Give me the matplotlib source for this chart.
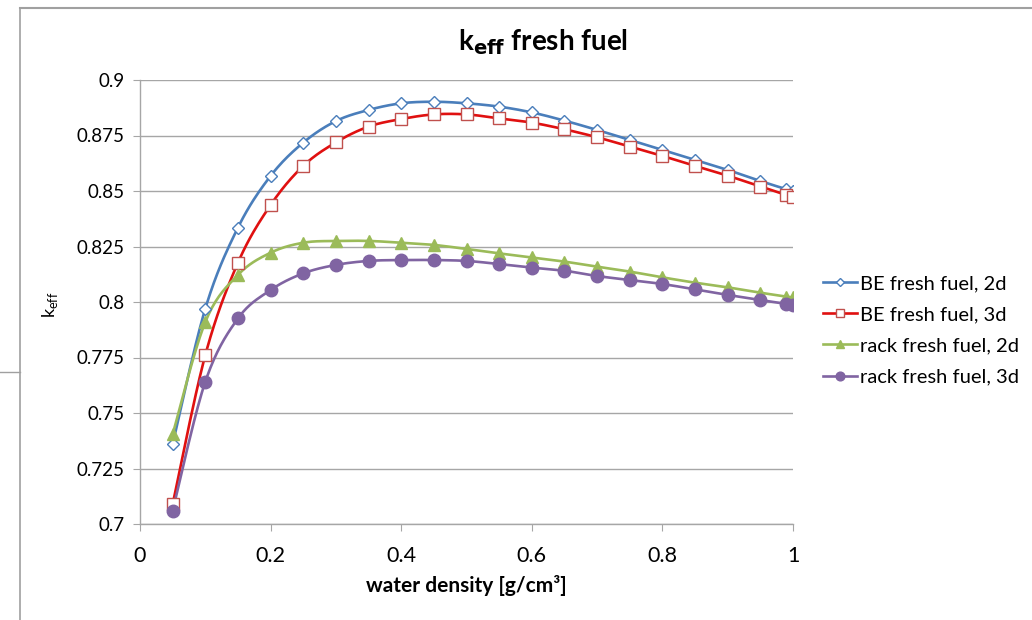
#!/usr/bin/env python3

import numpy as np

import matplotlib
matplotlib.use("Agg")
import matplotlib.pyplot as plt
from matplotlib.lines import Line2D
from matplotlib.ticker import FuncFormatter

# water density [g/cm3]
density = [0.05, 0.1, 0.15, 0.2, 0.25, 0.3, 0.35, 0.4, 0.45, 0.5,
           0.55, 0.6, 0.65, 0.7, 0.75, 0.8, 0.85, 0.9, 0.95, 0.99, 1.0]

be_2d = [0.736, 0.797, 0.8335, 0.8568, 0.8718, 0.8815, 0.8865, 0.8895, 0.8902, 0.8895,
         0.888, 0.8854, 0.8817, 0.8775, 0.873, 0.8685, 0.864, 0.8595, 0.8545, 0.8508, 0.8502]
be_3d = [0.7089, 0.7761, 0.8177, 0.8437, 0.8613, 0.8719, 0.879, 0.8824, 0.8845, 0.8845,
         0.8827, 0.8808, 0.8778, 0.8742, 0.870, 0.8658, 0.8613, 0.8569, 0.852, 0.8482, 0.8475]
rack_2d = [0.7404, 0.791, 0.8122, 0.8222, 0.8267, 0.8275, 0.8275, 0.8267, 0.8257, 0.8239,
           0.8219, 0.8201, 0.8182, 0.8159, 0.8137, 0.8111, 0.8087, 0.8066, 0.8042, 0.8024, 0.8021]
rack_3d = [0.706, 0.7641, 0.7926, 0.8054, 0.8129, 0.8167, 0.8185, 0.8189, 0.8189, 0.8185,
           0.8171, 0.8155, 0.8141, 0.8117, 0.8099, 0.8081, 0.8057, 0.8032, 0.8009, 0.7991, 0.7987]

labels = ["BE fresh fuel, 2d", "BE fresh fuel, 3d",
          "rack fresh fuel, 2d", "rack fresh fuel, 3d"]


def smooth(x, y, n=20):
    # Catmull-Rom through the points, like the "smoothed line" of a spreadsheet
    x = np.asarray(x, float)
    y = np.asarray(y, float)
    sy = 444.0 / 654.0 / 0.2
    px = np.concatenate([[x[0]], x, [x[-1]]])
    py = np.concatenate([[y[0]], y, [y[-1]]]) * sy
    xs, ys = [], []
    t = np.linspace(0, 1, n)
    for i in range(1, len(px) - 2):
        p0, p1, p2, p3 = (np.array([px[j], py[j]]) for j in range(i - 1, i + 3))
        c1 = p1 + (p2 - p0) / 6.0
        c2 = p2 - (p3 - p1) / 6.0
        for tt in t:
            b = ((1 - tt) ** 3 * p1 + 3 * (1 - tt) ** 2 * tt * c1
                 + 3 * (1 - tt) * tt ** 2 * c2 + tt ** 3 * p2)
            xs.append(b[0])
            ys.append(b[1] / sy)
    return np.array(xs), np.array(ys)


plt.rcParams['font.family'] = ['Lato', 'DejaVu Sans']

fig = plt.figure(figsize=(10.32, 6.2), dpi=100)
ax = fig.add_axes([140 / 1032, 1 - 524 / 620, 653 / 1032, 444 / 620])

styles = [
    dict(color='#4A7EBB', marker='D', ms=6, mfc='white', mec='#4A7EBB', mew=1.0),
    dict(color='#E01010', marker='s', ms=8, mfc='white', mec='#C0504D', mew=1.0),
    dict(color='#9BBB59', marker='^', ms=9, mfc='#9BBB59', mec='#9BBB59', mew=1.0),
    dict(color='#8064A2', marker='o', ms=9, mfc='#8064A2', mec='#8064A2', mew=1.0),
]

handles = []
for ys, lab, st in zip([be_2d, be_3d, rack_2d, rack_3d], labels, styles):
    sx, sy = smooth(density, ys)
    ax.plot(sx, sy, color=st['color'], lw=1.9, zorder=3)
    ax.plot(density, ys, ls='none', marker=st['marker'], ms=st['ms'],
            mfc=st['mfc'], mec=st['mec'], mew=st['mew'], zorder=4)
    handles.append(Line2D([], [], color=st['color'], lw=1.9, marker=st['marker'],
                          ms=st['ms'] * 0.7, mfc=st['mfc'], mec=st['mec'], label=lab))

ax.set_xlim(0, 1)
ax.set_ylim(0.7, 0.9)
ax.set_xticks([0, 0.2, 0.4, 0.6, 0.8, 1])
ax.set_yticks(np.arange(0.7, 0.9001, 0.025))
fmt = FuncFormatter(lambda v, p: "%g" % round(v, 3))
ax.xaxis.set_major_formatter(fmt)
ax.yaxis.set_major_formatter(fmt)

ax.grid(axis='y', color='#A6A6A6', lw=1.0)
ax.set_axisbelow(True)
for s in ['top', 'right']:
    ax.spines[s].set_visible(False)
for s in ['left', 'bottom']:
    ax.spines[s].set_color('#A6A6A6')
    ax.spines[s].set_linewidth(1.0)
ax.tick_params(axis='y', length=5, color='#A6A6A6', labelsize=13.5, pad=6)
ax.tick_params(axis='x', length=5, color='#A6A6A6', labelsize=15.5, pad=11)

ax.set_xlabel("water density [g/cm³]", fontsize=15, fontweight='bold', labelpad=6)
fig.text(50 / 1032, 1 - 305 / 620, r"k$_{\mathregular{eff}}$", rotation=90,
         fontsize=13, ha='center', va='center')

fig.text(543 / 1032, 1 - 42 / 620, r"k$_{\mathbf{eff}}$ fresh fuel", fontsize=20,
         fontweight='bold', ha='center', va='center')

fig.legend(handles=handles, loc='upper left', bbox_to_anchor=(823 / 1032, 1 - 275 / 620),
           frameon=False, fontsize=14.5, handlelength=1.7, handletextpad=0.15,
           labelspacing=0.7, borderpad=0, borderaxespad=0)

# outer chart frame of the screenshot
frame = '#A0A0A0'
fig.add_artist(Line2D([20 / 1032, 1], [1 - 8 / 620, 1 - 8 / 620], color=frame, lw=1.5))
fig.add_artist(Line2D([20 / 1032, 20 / 1032], [0, 1 - 8 / 620], color=frame, lw=1.2))
fig.add_artist(Line2D([0, 20 / 1032], [1 - 372 / 620, 1 - 372 / 620], color=frame, lw=1.0))

fig.savefig("out.png", dpi=100)
